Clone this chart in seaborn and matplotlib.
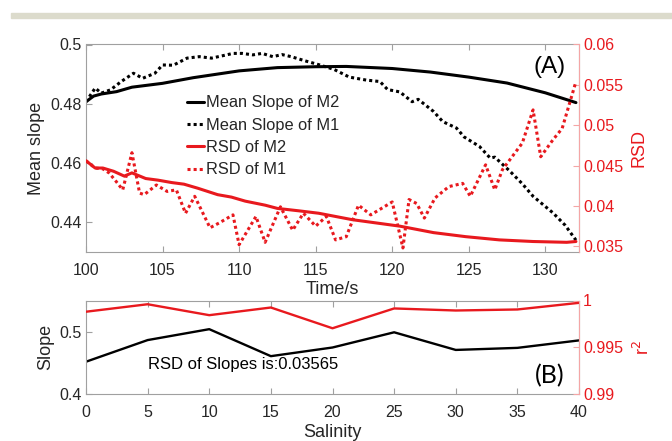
import matplotlib
matplotlib.use("Agg")
import matplotlib.pyplot as plt
import seaborn as sns
from matplotlib.lines import Line2D
from matplotlib.patches import Rectangle

# ---- data ----
t_m2 = [100, 100.5, 101, 102, 103, 105, 107, 110, 112.5, 115, 117, 120,
        122.5, 125, 127.5, 130, 132]
slope_m2 = [0.4807, 0.4826, 0.4833, 0.4841, 0.4856, 0.4869, 0.4888, 0.4911,
            0.4922, 0.4925, 0.4926, 0.4919, 0.4907, 0.4890, 0.4870, 0.4837, 0.4804]

t_m1 = [100, 100.6, 101, 101.6, 102.3, 103.1, 103.7, 104.5, 105, 105.7, 106.6,
        107.4, 108.2, 109, 109.6, 110.2, 110.9, 111.5, 112.2, 112.8, 113.4,
        114.3, 115.2, 116.2, 117.2, 118.3, 119.2, 119.7, 120.5, 121.3, 121.7,
        122.7, 123.3, 124.2, 124.7, 125.7, 126.4, 126.7, 127.7, 128.5, 129.2,
        130.5, 131.3, 132]
slope_m1 = [0.4807, 0.4853, 0.4836, 0.4847, 0.4875, 0.4903, 0.4886, 0.4903,
            0.4931, 0.4930, 0.4954, 0.4959, 0.4954, 0.4963, 0.4970, 0.4970,
            0.4965, 0.4970, 0.4959, 0.4966, 0.4959, 0.4945, 0.4932, 0.4916,
            0.4890, 0.4880, 0.4875, 0.4848, 0.4840, 0.4807, 0.4815, 0.4774,
            0.4740, 0.4718, 0.4688, 0.4656, 0.4617, 0.4620, 0.4572, 0.4530,
            0.4488, 0.4432, 0.4390, 0.4340]

t_r2 = [100, 100.6, 101.1, 101.8, 102.5, 103, 103.9, 104.7, 105.6, 106.4,
        107.3, 108.6, 109.5, 110.4, 111.7, 112.5, 113.9, 115.2, 117.4, 120.5,
        122.7, 124.8, 127, 129.2, 131.4, 132]
rsd_m2 = [0.0456, 0.0447, 0.0447, 0.0443, 0.0437, 0.0441, 0.0434, 0.0432,
          0.0429, 0.0427, 0.0422, 0.0414, 0.0411, 0.0406, 0.0401, 0.0397,
          0.0394, 0.0391, 0.0383, 0.0375, 0.0367, 0.0362, 0.0358, 0.0356,
          0.0355, 0.0356]

t_r1 = [100, 100.6, 101.1, 101.5, 101.9, 102.4, 103.0, 103.5, 103.8, 104.6,
        105.3, 105.9, 106.5, 107.1, 108.1, 108.7, 109.6, 110.0, 111.1, 111.7,
        112.7, 113.5, 114.2, 115.0, 115.7, 116.3, 117.0, 117.8, 118.6, 120.0,
        120.7, 121.1, 121.6, 122.1, 122.8, 123.7, 124.6, 125.1, 126.1, 126.7,
        127.2, 128.5, 129.2, 129.7, 130.5, 131.1, 132.0]
rsd_m1 = [0.0456, 0.0447, 0.0446, 0.0441, 0.0432, 0.0420, 0.0466, 0.0416,
          0.0414, 0.0426, 0.0418, 0.0420, 0.0391, 0.0412, 0.0373, 0.0379,
          0.0389, 0.0352, 0.0387, 0.0355, 0.0399, 0.0370, 0.0391, 0.0375,
          0.0387, 0.0358, 0.0362, 0.0401, 0.0389, 0.0405, 0.0348, 0.0408,
          0.0403, 0.0385, 0.0410, 0.0424, 0.0428, 0.0412, 0.0451, 0.0420,
          0.0445, 0.0478, 0.0519, 0.0461, 0.0482, 0.0496, 0.0554]

salinity = [0, 5, 10, 15, 20, 25, 30, 35, 40]
slope_sal = [0.4518, 0.4865, 0.5040, 0.4607, 0.4746, 0.4990, 0.4707, 0.4740, 0.4860]
r2_sal = [0.99880, 0.99960, 0.99843, 0.99925, 0.99703, 0.99915, 0.99893,
          0.99904, 0.99975]

legend_labels = ["Mean Slope of M2", "Mean Slope of M1", "RSD of M2", "RSD of M1"]

# ---- style ----
sns.set_style("ticks")
plt.rcParams["font.family"] = ["Liberation Sans", "DejaVu Sans"]

RED = "#e8191e"
GREY = "#a0a0a0"
PINK = "#f4a6a6"
TXT = "#262626"
DOT = (0, (1, 1))

fig = plt.figure(figsize=(6.72, 4.41), dpi=100)
fig.patches.append(Rectangle((11 / 672, 1 - 17.5 / 441), 1, 4.5 / 441,
                             transform=fig.transFigure, color="#dcdbcc",
                             zorder=0))


def style_axes(ax, ax2):
    for s in ax.spines.values():
        s.set_color(GREY)
        s.set_linewidth(0.8)
    for s in ["left", "top", "bottom"]:
        ax2.spines[s].set_visible(False)
    ax2.spines["right"].set_color(PINK)
    ax2.spines["right"].set_linewidth(0.8)
    ax.tick_params(axis="x", direction="in", top=True, bottom=True,
                   length=4, color=GREY, labelsize=11.5, labelcolor=TXT, pad=8)
    ax.tick_params(axis="y", direction="in", left=True, right=False,
                   length=4, color=GREY, labelsize=11.5, labelcolor=TXT, pad=3)
    ax2.tick_params(axis="y", direction="in", length=4, color=PINK,
                    labelsize=11.5, labelcolor=RED, pad=3)


# ---- panel A ----
axA = fig.add_axes([86 / 672, 1 - 252 / 441, 493 / 672, 207.5 / 441])
axA2 = axA.twinx()
sns.lineplot(x=t_m2, y=slope_m2, ax=axA, color="black", lw=2.2)
sns.lineplot(x=t_m1, y=slope_m1, ax=axA, color="black", lw=2.2, ls=DOT)
sns.lineplot(x=t_r2, y=rsd_m2, ax=axA2, color=RED, lw=2.2)
sns.lineplot(x=t_r1, y=rsd_m1, ax=axA2, color=RED, lw=2.2, ls=DOT)
axA.set_xlim(100, 132.2)
axA.set_ylim(0.43, 0.5)
axA.set_yticks([0.44, 0.46, 0.48, 0.5])
axA.set_yticklabels(["0.44", "0.46", "0.48", "0.5"])
axA.set_xticks(range(100, 131, 5))
axA2.set_ylim(0.0343, 0.06)
axA2.set_yticks([0.035, 0.04, 0.045, 0.05, 0.055, 0.06])
axA2.set_yticklabels(["0.035", "0.04", "0.045", "0.05", "0.055", "0.06"])
style_axes(axA, axA2)
axA.set_xlabel("Time/s", fontsize=13, color=TXT, labelpad=2)
axA.set_ylabel("Mean slope", fontsize=13, color=TXT, labelpad=4)
axA2.set_ylabel("RSD", fontsize=13, color=RED, labelpad=5)
axA.text(0.94, 0.89, "(A)", transform=axA.transAxes, fontsize=17.5,
         ha="center", va="center", color="black")

handles = [Line2D([], [], color="black", lw=2.2),
           Line2D([], [], color="black", lw=2.2, ls=DOT),
           Line2D([], [], color=RED, lw=2.2),
           Line2D([], [], color=RED, lw=2.2, ls=DOT)]
axA2.legend(handles, legend_labels, loc="upper left",
            bbox_to_anchor=(0.205, 0.755), frameon=False, fontsize=11.8,
            handlelength=1.05, handletextpad=0.1, labelspacing=0.45,
            borderpad=0, borderaxespad=0)

# ---- panel B ----
axB = fig.add_axes([86 / 672, 1 - 394 / 441, 493 / 672, 93.5 / 441])
axB2 = axB.twinx()
sns.lineplot(x=salinity, y=slope_sal, ax=axB, color="black", lw=1.7)
sns.lineplot(x=salinity, y=r2_sal, ax=axB2, color=RED, lw=1.7)
axB.set_xlim(0, 40)
axB.set_ylim(0.4, 0.55)
axB.set_yticks([0.4, 0.5])
axB.set_yticklabels(["0.4", "0.5"])
axB.set_xticks(salinity)
axB2.set_ylim(0.99, 1.0)
axB2.set_yticks([0.99, 0.995, 1.0])
axB2.set_yticklabels(["0.99", "0.995", "1"])
style_axes(axB, axB2)
axB.set_xlabel("Salinity", fontsize=13, color=TXT, labelpad=3)
axB.set_ylabel("Slope", fontsize=13, color=TXT, labelpad=4)
axB2.set_ylabel("r$^2$", fontsize=13, color=RED, labelpad=7)
axB.text(5, 0.448, "RSD of Slopes is:0.03565", fontsize=12, color="black",
         ha="left", va="center")
axB.text(0.94, 0.2, "(B)", transform=axB.transAxes, fontsize=18,
         ha="center", va="center", color="black", family=["Lato", "DejaVu Sans"])

fig.savefig("out.png", dpi=100)
